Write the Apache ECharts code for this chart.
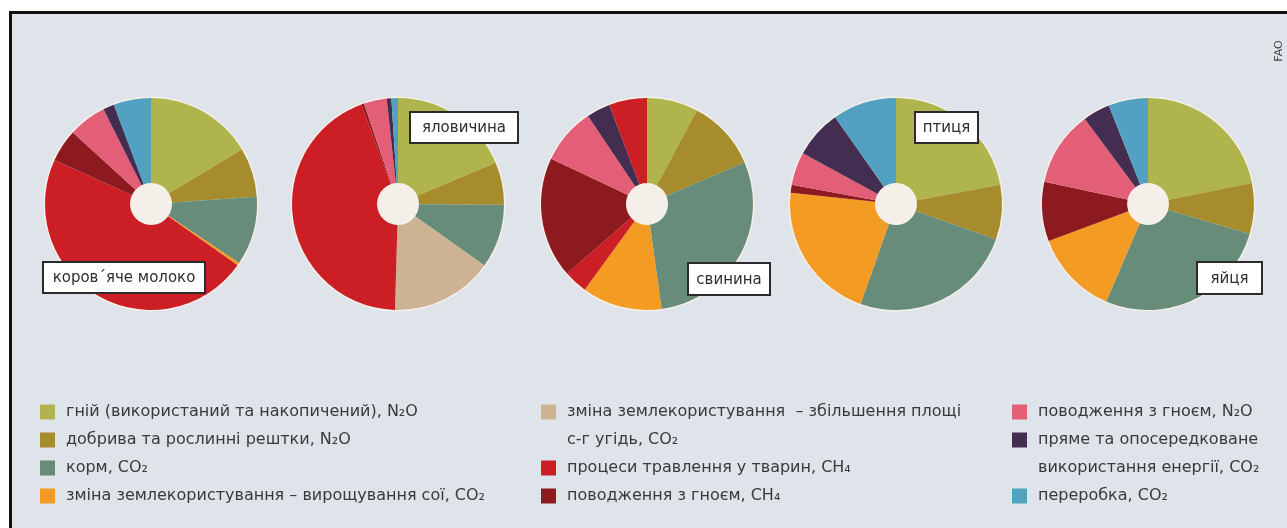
<!DOCTYPE html>
<html>
<head>
<meta charset="utf-8">
<script src="https://cdn.jsdelivr.net/npm/echarts@6/dist/echarts.min.js"></script>
<style>
  html, body { margin: 0; padding: 0; background: #ffffff; }
  #chart { width: 1287px; height: 528px; }
</style>
</head>
<body>
<div id="chart"></div>
<script>
// Emission sources (legend order) and their colours
const sourceNames = [
  'гній (використаний та накопичений), N₂O',
  'добрива та рослинні рештки, N₂O',
  'корм, CO₂',
  'зміна землекористування – вирощування сої, CO₂',
  'зміна землекористування  – збільшення площі\nс-г угідь, CO₂',
  'процеси травлення у тварин, CH₄',
  'поводження з гноєм, CH₄',
  'поводження з гноєм, N₂O',
  'пряме та опосередковане\nвикористання енергії, CO₂',
  'переробка, CO₂'
];
const sourceColors = [
  '#afb54c', '#a68c2d', '#678c79', '#f39b22', '#cdb393',
  '#cc1e25', '#8c1a1f', '#e35f78', '#432d50', '#52a0c2'
];

// Products shown as pies
const productNames = ['коров´яче молоко', 'яловичина', 'свинина', 'птиця', 'яйця'];

// Slices of each pie, clockwise from 12 o'clock: source index and share, %
const milkSources = [0, 1, 2, 3, 5, 6, 7, 8, 9];
const milkShares  = [16.4, 7.5, 10.5, 0.4, 47.0, 5.0, 5.8, 1.7, 5.7];

const beefSources = [0, 1, 2, 4, 5, 6, 7, 8, 9];
const beefShares  = [18.6, 6.5, 9.7, 15.6, 43.9, 0.4, 3.5, 0.7, 1.0];

const porkSources = [0, 1, 2, 3, 5, 6, 7, 8, 5];
const porkShares  = [7.8, 10.8, 29.2, 12.2, 3.6, 18.4, 8.6, 3.6, 5.8];

const poultrySources = [0, 1, 2, 3, 6, 7, 8, 9];
const poultryShares  = [22.0, 8.3, 24.9, 21.2, 1.2, 5.0, 7.3, 9.7];

const eggSources = [0, 1, 2, 3, 6, 7, 8, 9];
const eggShares  = [21.7, 7.7, 26.7, 12.8, 9.0, 11.4, 4.1, 6.0];

const pieSources = [milkSources, beefSources, porkSources, poultrySources, eggSources];
const pieShares  = [milkShares, beefShares, porkShares, poultryShares, eggShares];

// Legend columns: which sources go in each column
const legendColumns = [[0, 1, 2, 3], [4, 5, 6], [7, 8, 9]];

// ---- layout ----
const pieCentersX = [151, 398, 647, 896, 1148];
const pieCenterY = 204;
const pieRadius = 106;
const holeRadius = 21;

// name tag boxes: [left, top, width, height]
const tagBoxes = [
  [43, 262, 162, 31],
  [410, 112, 108, 31],
  [688, 263, 82, 32],
  [915, 112, 63, 31],
  [1197, 262, 65, 32]
];

const legendSquareX = [40, 541, 1012];
const legendTextGap = 26;
const legendTop = 412;
const legendRowStep = 28;

const chart = echarts.init(document.getElementById('chart'), null, { renderer: 'canvas' });

const series = [];
productNames.forEach(function (name, p) {
  const center = [pieCentersX[p], pieCenterY];
  // pale disc behind each pie: gives the thin rim and the white hole
  series.push({
    type: 'pie',
    silent: true,
    center: center,
    radius: [0, pieRadius + 1.5],
    label: { show: false },
    labelLine: { show: false },
    itemStyle: { color: '#f5efea' },
    data: [{ name: '', value: 1 }],
    z: 1
  });
  series.push({
    type: 'pie',
    name: name,
    silent: true,
    center: center,
    radius: [holeRadius, pieRadius],
    startAngle: 90,
    clockwise: true,
    label: { show: false },
    labelLine: { show: false },
    itemStyle: { borderWidth: 0 },
    data: pieSources[p].map(function (s, i) {
      return {
        name: sourceNames[s],
        value: pieShares[p][i],
        itemStyle: { color: sourceColors[s] }
      };
    }),
    z: 2
  });
});

const graphics = [];

// page frame
graphics.push({
  type: 'rect',
  shape: { x: 10.5, y: 12.5, width: 1290, height: 530 },
  style: { fill: '#dfe3ea', stroke: '#111111', lineWidth: 3 },
  z: -10
});

// product name tags
productNames.forEach(function (name, p) {
  const b = tagBoxes[p];
  graphics.push({
    type: 'rect',
    shape: { x: b[0], y: b[1], width: b[2], height: b[3] },
    style: { fill: '#ffffff', stroke: '#2b2b2b', lineWidth: 2 },
    z: 20
  });
  graphics.push({
    type: 'text',
    x: b[0] + b[2] / 2,
    y: b[1] + b[3] / 2 + 1,
    style: {
      text: name,
      fill: '#2e2e2e',
      font: '15px "DejaVu Sans"',
      align: 'center',
      verticalAlign: 'middle'
    },
    z: 21
  });
});

// legend
legendColumns.forEach(function (col, c) {
  let row = 0;
  col.forEach(function (s) {
    const y = legendTop + row * legendRowStep;
    graphics.push({
      type: 'rect',
      shape: { x: legendSquareX[c], y: y - 7.5, width: 15, height: 15 },
      style: { fill: sourceColors[s] },
      z: 20
    });
    graphics.push({
      type: 'text',
      x: legendSquareX[c] + legendTextGap,
      y: y - legendRowStep / 2,
      style: {
        text: sourceNames[s],
        fill: '#3a3a3a',
        font: '16px "DejaVu Sans"',
        lineHeight: legendRowStep,
        align: 'left',
        verticalAlign: 'top'
      },
      z: 20
    });
    row += sourceNames[s].split('\n').length;
  });
});

// source credit, set vertically in the top right corner
graphics.push({
  type: 'text',
  x: 1279,
  y: 51,
  rotation: Math.PI / 2,
  style: {
    text: 'FAO',
    fill: '#444444',
    font: '11px "DejaVu Sans"',
    align: 'center',
    verticalAlign: 'middle'
  },
  z: 20
});

chart.setOption({
  animation: false,
  backgroundColor: '#ffffff',
  series: series,
  graphic: { elements: graphics }
});
</script>
</body>
</html>
